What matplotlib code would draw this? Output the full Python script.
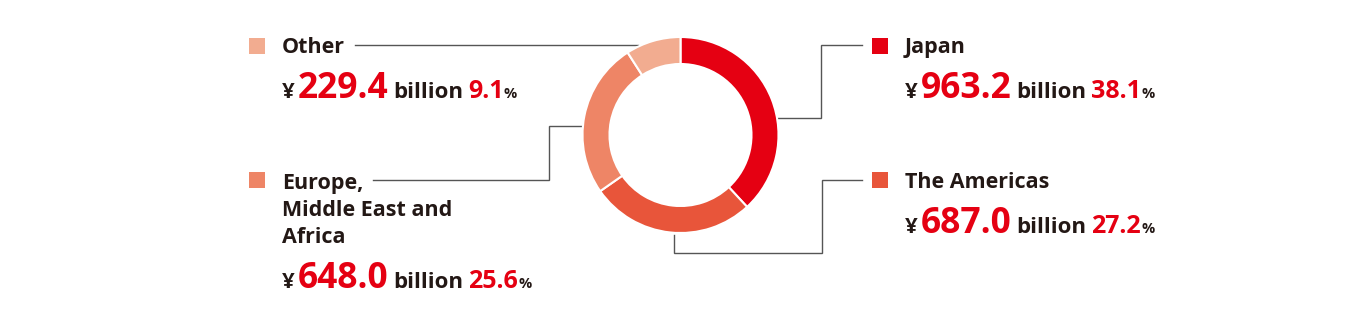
import matplotlib
matplotlib.use('Agg')
import matplotlib.pyplot as plt
from matplotlib.patches import Rectangle

# ---- data ----
regions = ['Japan', 'The Americas', 'Europe,\nMiddle East and\nAfrica', 'Other']
amounts = [963.2, 687.0, 648.0, 229.4]          # ¥ billion
shares = [38.1, 27.2, 25.6, 9.1]                # %
colors = ['#E50012', '#E8553A', '#EE8566', '#F2AC90']

RED = '#E50012'
BLACK = '#231815'
LINE = '#555555'
FAM = ['Open Sans', 'DejaVu Sans']

W, H = 1360, 320
fig = plt.figure(figsize=(13.6, 3.2), dpi=100)
ax = fig.add_axes([0, 0, 1, 1])

ax.pie(amounts, radius=98, center=(680.5, H - 135), startangle=90,
       counterclock=False, colors=colors,
       wedgeprops=dict(width=27, edgecolor='white', linewidth=1.5))
ax.set_xlim(0, W)
ax.set_ylim(0, H)
ax.set_aspect('auto')
ax.axis('off')

renderer = fig.canvas.get_renderer()


def run_text(x, y, parts):
    for s, size, color, gap in parts:
        t = ax.text(x, H - y, s, fontsize=size, color=color, fontweight='bold',
                    va='baseline', ha='left', family=FAM)
        bb = t.get_window_extent(renderer=renderer)
        x = bb.x1 + gap


# layout per region: square (x, y top), label x, label baseline, value baseline
layout = {
    'Japan': dict(sq=(872, 38), tx=905, ly=53, vy=98),
    'The Americas': dict(sq=(872, 172), tx=905, ly=188, vy=233),
    'Europe,\nMiddle East and\nAfrica': dict(sq=(249, 172), tx=282, ly=189, vy=288),
    'Other': dict(sq=(249, 38), tx=282, ly=53, vy=98),
}

for name, amt, pct, col in zip(regions, amounts, shares, colors):
    L = layout[name]
    sx, sy = L['sq']
    ax.add_patch(Rectangle((sx, H - sy - 16), 16, 16, facecolor=col,
                           edgecolor='none'))
    for i, line in enumerate(name.split('\n')):
        ax.text(L['tx'], H - (L['ly'] + 27 * i), line, fontsize=15.5,
                fontweight='bold', color=BLACK, va='baseline', ha='left',
                family=FAM)
    run_text(L['tx'], L['vy'], [
        ('¥', 16, BLACK, 3),
        (f'{amt:.1f}', 25.5, RED, 5),
        ('billion', 16, BLACK, 5),
        (f'{pct:.1f}', 18, RED, 0),
        ('%', 10.5, BLACK, 0),
    ])

leaders = [
    [(355, 45), (638, 45)],
    [(373, 180), (549, 180), (549, 126), (582, 126)],
    [(778, 118), (821, 118), (821, 45), (862, 45)],
    [(674, 235), (674, 253), (822, 253), (822, 180), (862, 180)],
]
for pts in leaders:
    xs = [p[0] for p in pts]
    ys = [H - p[1] for p in pts]
    ax.plot(xs, ys, color=LINE, lw=1.0, solid_joinstyle='miter', zorder=0)

fig.savefig('out.png', dpi=100, facecolor='white')
